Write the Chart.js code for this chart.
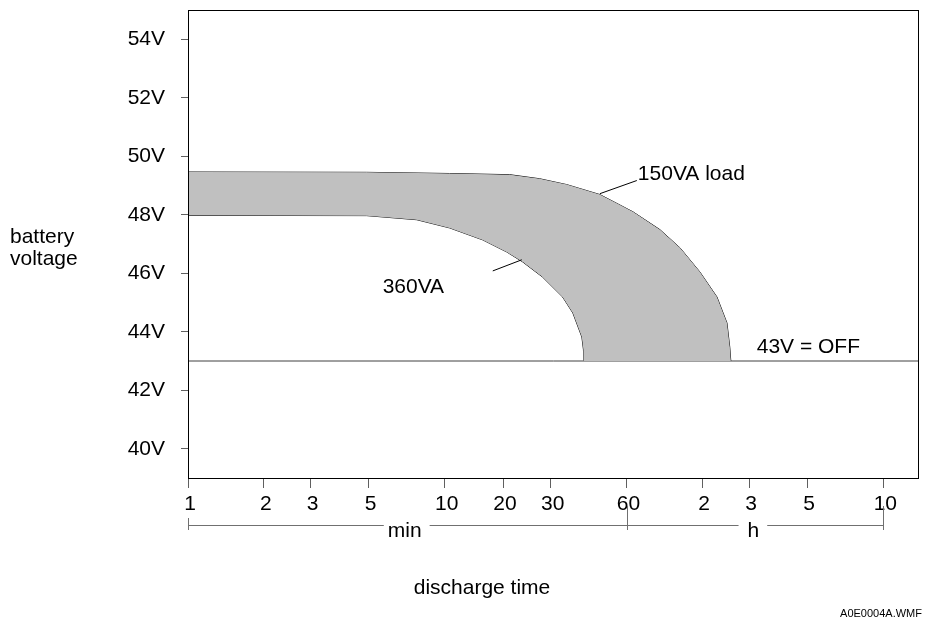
<!DOCTYPE html>
<html>
<head>
<meta charset="utf-8">
<script src="https://cdn.jsdelivr.net/npm/chart.js@4/dist/chart.umd.min.js"></script>
<style>
  html, body { margin: 0; padding: 0; background: #fff; }
  canvas { display: block; }
</style>
</head>
<body>
<canvas id="battChart" width="926" height="619"></canvas>
<script>
// x axis is a drawn time scale: 1 unit ~ one decade, minutes on the left, hours on the right
const xTickPos = [0, 0.295, 0.477, 0.703, 1.0, 1.227, 1.413, 1.708, 2.002, 2.185, 2.411, 2.708];
const xTickLabels = ['1', '2', '3', '5', '10', '20', '30', '60', '2', '3', '5', '10'];
const yTickVals = [40, 42, 44, 46, 48, 50, 52, 54];

// 150VA load curve
const upperPos  = [0, 0.696, 1.019, 1.253, 1.370, 1.475, 1.604, 1.733, 1.838, 1.916, 1.993, 2.060, 2.099, 2.110, 2.114];
const upperVolt = [49.46, 49.45, 49.41, 49.37, 49.23, 49.03, 48.69, 48.10, 47.49, 46.87, 46.05, 45.19, 44.30, 43.47, 43.0];

// 360VA load curve
const lowerPos  = [0, 0.696, 0.891, 1.019, 1.148, 1.241, 1.303, 1.381, 1.459, 1.499, 1.534, 1.540, 1.542];
const lowerVolt = [47.98, 47.97, 47.83, 47.55, 47.14, 46.73, 46.39, 45.87, 45.19, 44.64, 43.82, 43.4, 43.0];

const offVolt = 43;
const xMax = 2.847;

const FONT = "'Liberation Sans', Arial, sans-serif";

const toPts = (xs, ys) => xs.map((x, i) => ({ x: x, y: ys[i] }));
const upperPts = toPts(upperPos, upperVolt);
const lowerPts = toPts(lowerPos, lowerVolt);
// closed band: along 150VA, back along 360VA
const bandPts = upperPts.concat(lowerPts.slice().reverse());

const extras = {
    id: 'extras',
    afterDatasetsDraw(chart) {
        const { ctx, chartArea: a } = chart;
        ctx.save();
        ctx.strokeStyle = '#000';
        ctx.lineWidth = 1;
        ctx.strokeRect(Math.round(a.left) + 0.5, Math.round(a.top) + 0.5,
            Math.round(a.right - a.left) - 1, Math.round(a.bottom - a.top));
        ctx.restore();
    },
    afterDraw(chart) {
        const { ctx, chartArea: a } = chart;
        const xs = chart.scales.x, ys = chart.scales.y;
        ctx.save();
        ctx.fillStyle = '#000';
        ctx.font = '21px ' + FONT;
        ctx.textBaseline = 'alphabetic';

        // labels inside the plot
        ctx.textAlign = 'left';
        ctx.fillText('150VA load', xs.getPixelForValue(1.752), ys.getPixelForValue(49.2));
        ctx.fillText('360VA', xs.getPixelForValue(0.758), ys.getPixelForValue(45.33));
        ctx.fillText('43V = OFF', xs.getPixelForValue(2.215), ys.getPixelForValue(43.27));

        // leader lines
        ctx.strokeStyle = '#000';
        ctx.lineWidth = 1;
        ctx.beginPath();
        ctx.moveTo(xs.getPixelForValue(1.604), ys.getPixelForValue(48.72));
        ctx.lineTo(xs.getPixelForValue(1.748), ys.getPixelForValue(49.17));
        ctx.moveTo(xs.getPixelForValue(1.187), ys.getPixelForValue(46.08));
        ctx.lineTo(xs.getPixelForValue(1.300), ys.getPixelForValue(46.46));
        ctx.stroke();

        // axis title left
        ctx.fillText('battery', 10, 243);
        ctx.fillText('voltage', 10, 265);

        // min / h bracket
        const by = a.bottom + 47.5;
        const tb = a.bottom + 59;
        const x0 = xs.getPixelForValue(xTickPos[0]);
        const x60 = xs.getPixelForValue(xTickPos[7]);
        const x10h = xs.getPixelForValue(xTickPos[11]);
        const minX = xs.getPixelForValue(0.844);
        const hX = xs.getPixelForValue(2.202);
        ctx.textAlign = 'center';
        ctx.fillText('min', minX, tb);
        ctx.fillText('h', hX, tb);
        const minW = ctx.measureText('min').width;
        const hW = ctx.measureText('h').width;
        ctx.strokeStyle = '#707070';
        ctx.beginPath();
        ctx.moveTo(x0, by); ctx.lineTo(minX - minW / 2 - 4, by);
        ctx.moveTo(minX + minW / 2 + 8, by); ctx.lineTo(hX - hW / 2 - 9, by);
        ctx.moveTo(hX + hW / 2 + 8, by); ctx.lineTo(x10h, by);
        ctx.moveTo(Math.round(x0) + 0.5, a.bottom + 40); ctx.lineTo(Math.round(x0) + 0.5, a.bottom + 52);
        ctx.moveTo(Math.round(x60) + 0.5, a.bottom + 28); ctx.lineTo(Math.round(x60) + 0.5, a.bottom + 52);
        ctx.moveTo(Math.round(x10h) + 0.5, a.bottom + 28); ctx.lineTo(Math.round(x10h) + 0.5, a.bottom + 52);
        ctx.stroke();

        // x axis title
        ctx.fillText('discharge time', 482, 594);

        // file name
        ctx.font = '11px ' + FONT;
        ctx.textAlign = 'right';
        ctx.fillText('A0E0004A.WMF', 922, 617);
        ctx.restore();
    }
};

new Chart(document.getElementById('battChart').getContext('2d'), {
    type: 'line',
    data: {
        datasets: [
            { data: bandPts, fill: 'shape', backgroundColor: '#c0c0c0', borderWidth: 0, pointRadius: 0, tension: 0 },
            { data: upperPts, borderColor: '#000', borderWidth: 1, pointRadius: 0, fill: false, tension: 0 },
            { data: lowerPts, borderColor: '#000', borderWidth: 1, pointRadius: 0, fill: false, tension: 0 },
            { data: [{ x: 0, y: offVolt }, { x: xMax, y: offVolt }], borderColor: '#404040', borderWidth: 1, pointRadius: 0, fill: false }
        ]
    },
    options: {
        responsive: false,
        animation: false,
        layout: { padding: { left: 0, top: 10, right: 7, bottom: 0 } },
        plugins: { legend: { display: false }, tooltip: { enabled: false } },
        scales: {
            x: {
                type: 'linear',
                min: 0,
                max: xMax,
                afterBuildTicks(scale) { scale.ticks = xTickPos.map(v => ({ value: v })); },
                afterFit(scale) {
                    scale.height = 141;
                    scale.paddingLeft = 0;
                    scale.paddingRight = 0;
                },
                border: { display: false },
                grid: { drawOnChartArea: false, drawTicks: true, tickLength: 10, tickColor: '#606060' },
                ticks: {
                    autoSkip: false,
                    maxRotation: 0,
                    padding: 4,
                    labelOffset: 2,
                    color: '#000',
                    font: { family: FONT, size: 21 },
                    callback: (v, i) => xTickLabels[i]
                }
            },
            y: {
                min: 39,
                max: 55,
                afterBuildTicks(scale) { scale.ticks = yTickVals.map(v => ({ value: v })); },
                afterFit(scale) {
                    scale.width = 188;
                    scale.paddingTop = 0;
                    scale.paddingBottom = 0;
                },
                border: { display: false },
                grid: { drawOnChartArea: false, drawTicks: true, tickLength: 7, tickColor: '#606060' },
                ticks: {
                    padding: 16,
                    color: '#000',
                    font: { family: FONT, size: 21 },
                    callback: v => v + 'V'
                }
            }
        }
    },
    plugins: [extras]
});
</script>
</body>
</html>
